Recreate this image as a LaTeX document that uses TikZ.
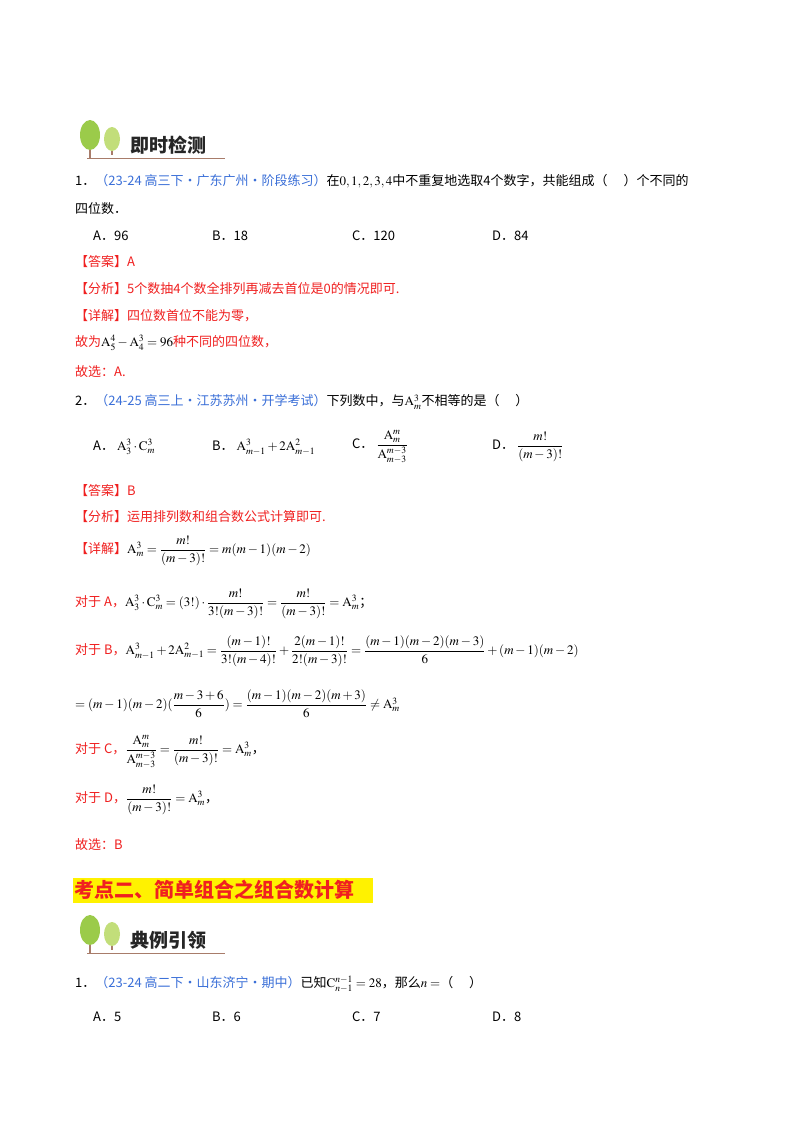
\documentclass[tikz,border=0pt]{standalone}
\usepackage{amsmath}
\usepackage{mathptmx}
\usepackage{fontspec}
\setmainfont{Noto Sans CJK SC}
\definecolor{srcblue}{HTML}{3A6FD8}
\definecolor{ansred}{HTML}{F02020}
\definecolor{treeg}{HTML}{9BCB4A}
\definecolor{treeg2}{HTML}{C2DE7A}
\definecolor{trunk}{HTML}{A87C6A}
\tikzset{
 t/.style={anchor=west,inner sep=0pt,font=\fontsize{13}{15}\selectfont},
 r/.style={t,text=ansred},
 hd/.style={anchor=west,inner sep=0pt,font=\fontsize{19}{21}\selectfont\bfseries,text=black!85},
}
\newcommand{\A}{\mathrm{A}}
\newcommand{\Cc}{\mathrm{C}}
\newcommand{\src}[1]{\textcolor{srcblue}{#1}}
\newcommand{\trees}[2]{%
 \fill[trunk] (#1+14,#2-2) rectangle (#1+16,#2+17);
 \fill[treeg] (#1+15,#2-6) ellipse (10 and 15);
 \fill[trunk] (#1+36,#2) rectangle (#1+37.5,#2+14);
 \fill[treeg2] (#1+37,#2-2) ellipse (8 and 12);
 \draw[trunk,line width=0.8pt] (#1+12,#2+17) -- (#1+150,#2+17);}
\begin{document}
\begin{tikzpicture}[x=1pt,y=-1pt]
\useasboundingbox (0,0) rectangle (800,1132);
\fill[white] (0,0) rectangle (800,1132);
% header 1
\trees{75}{141}
\node[hd] (h1) at (130,145) {即时检测};
\node[t] (q1) at (75,181) {1．\src{（23-24 高三下·广东广州·阶段练习）}在$0,1,2,3,4$中不重复地选取4个数字，共能组成（\quad\ ）个不同的};
\node[t] (q1b) at (75,209) {四位数．};
\node[t] (o1a) at (93,236) {A．96};
\node[t] (o1b) at (212,236) {B．18};
\node[t] (o1c) at (352,236) {C．120};
\node[t] (o1d) at (492,236) {D．84};
\node[r] (a1) at (75,262) {【答案】A};
\node[r] (f1) at (75,289) {【分析】5个数抽4个数全排列再减去首位是0的情况即可.};
\node[r] (d1) at (75,316) {【详解】四位数首位不能为零，};
\node[r] (d1b) at (75,343) {故为\textcolor{black}{$\A_5^4-\A_4^3=96$}种不同的四位数，};
\node[r] (s1) at (75,372) {故选：A.};
% Q2
\node[t] (q2) at (75,402) {2．\src{（24-25 高三上·江苏苏州·开学考试）}下列数中，与$\A_m^3$不相等的是（\quad\ ）};
\node[t] (o2a) at (93,447) {A．\ $\A_3^3\cdot\Cc_m^3$};
\node[t] (o2b) at (212,447) {B．\ $\A_{m-1}^3+2\A_{m-1}^2$};
\node[t] (o2c) at (352,447) {C．\ $\dfrac{\A_m^m}{\A_{m-3}^{m-3}}$};
\node[t] (o2d) at (492,447) {D．\ $\dfrac{m!}{(m-3)!}$};
\node[r] (a2) at (75,491) {【答案】B};
\node[r] (f2) at (75,517) {【分析】运用排列数和组合数公式计算即可.};
\node[r] (d2) at (75,551) {【详解】\textcolor{black}{$\A_m^3=\dfrac{m!}{(m-3)!}=m(m-1)(m-2)$}};
\node[r] (ca) at (75,604) {对于 A，\textcolor{black}{$\A_3^3\cdot\Cc_m^3=(3!)\cdot\dfrac{m!}{3!(m-3)!}=\dfrac{m!}{(m-3)!}=\A_m^3$；}};
\node[r] (cb) at (75,651) {对于 B，\textcolor{black}{$\A_{m-1}^3+2\A_{m-1}^2=\dfrac{(m-1)!}{3!(m-4)!}+\dfrac{2(m-1)!}{2!(m-3)!}=\dfrac{(m-1)(m-2)(m-3)}{6}+(m-1)(m-2)$}};
\node[t] (cb2) at (75,704) {$=(m-1)(m-2)(\dfrac{m-3+6}{6})=\dfrac{(m-1)(m-2)(m+3)}{6}\neq\A_m^3$};
\node[r] (cc) at (75,752) {对于 C，\textcolor{black}{$\dfrac{\A_m^m}{\A_{m-3}^{m-3}}=\dfrac{m!}{(m-3)!}=\A_m^3$，}};
\node[r] (cd) at (75,800) {对于 D，\textcolor{black}{$\dfrac{m!}{(m-3)!}=\A_m^3$，}};
\node[r] (s2) at (75,845) {故选：B};
% section
\fill[yellow] (73,878) rectangle (373,903);
\node[anchor=west,inner sep=0pt,font=\fontsize{20}{22}\selectfont\bfseries,text=ansred] (sec) at (74,890) {考点二、简单组合之组合数计算};
% header 2
\trees{75}{936}
\node[hd] (h2) at (130,940) {典例引领};
\node[t] (q3) at (75,984) {1．\src{（23-24 高二下·山东济宁·期中）}已知$\Cc_{n-1}^{n-1}=28$，那么$n=$（\quad\ ）};
\node[t] (o3a) at (93,1017) {A．5};
\node[t] (o3b) at (212,1017) {B．6};
\node[t] (o3c) at (352,1017) {C．7};
\node[t] (o3d) at (492,1017) {D．8};
\end{tikzpicture}
\end{document}
